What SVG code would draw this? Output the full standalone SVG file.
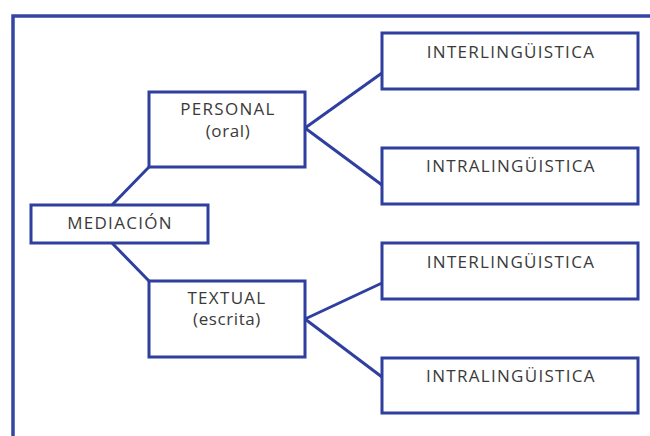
<svg xmlns="http://www.w3.org/2000/svg" width="650" height="436" viewBox="0 0 650 436">
<style>
.box{fill:#fff;stroke:#2f3f9f;stroke-width:3}
.frame{fill:none;stroke:#3346a6;stroke-width:3.5}
.ln{stroke:#2f3f9f;stroke-width:3;fill:none}
text{font-family:"Open Sans","DejaVu Sans",sans-serif;font-size:17px;font-weight:500;fill:#3a3a3a;text-anchor:middle;letter-spacing:1.3px}
.lc{letter-spacing:0.6px}
</style>
<rect width="650" height="436" fill="#fff"/>
<rect class="frame" x="13" y="16" width="700" height="500"/>
<g id="connectors">
<line class="ln" x1="149" y1="167" x2="112" y2="205"/>
<line class="ln" x1="112" y1="243" x2="149" y2="281"/>
<line class="ln" x1="305" y1="128" x2="382" y2="73"/>
<line class="ln" x1="305" y1="128" x2="382" y2="185"/>
<line class="ln" x1="305" y1="319" x2="382" y2="283"/>
<line class="ln" x1="305" y1="319" x2="382" y2="377"/>
</g>
<g id="mediacion">
<rect class="box" x="31" y="205" width="177" height="38"/>
<text x="120" y="229">MEDIACIÓN</text>
</g>
<g id="personal">
<rect class="box" x="149" y="92" width="156" height="75"/>
<text x="228" y="115">PERSONAL</text>
<text class="lc" x="228" y="137">(oral)</text>
</g>
<g id="textual">
<rect class="box" x="149" y="281" width="156" height="76"/>
<text x="227" y="304">TEXTUAL</text>
<text class="lc" x="227" y="325">(escrita)</text>
</g>
<g id="inter1">
<rect class="box" x="382" y="33" width="256" height="56"/>
<text x="511" y="58">INTERLINGÜISTICA</text>
</g>
<g id="intra1">
<rect class="box" x="382" y="148" width="256" height="56"/>
<text x="511" y="172">INTRALINGÜISTICA</text>
</g>
<g id="inter2">
<rect class="box" x="382" y="243" width="256" height="56"/>
<text x="511" y="268">INTERLINGÜISTICA</text>
</g>
<g id="intra2">
<rect class="box" x="382" y="358" width="256" height="55"/>
<text x="511" y="382">INTRALINGÜISTICA</text>
</g>
</svg>
